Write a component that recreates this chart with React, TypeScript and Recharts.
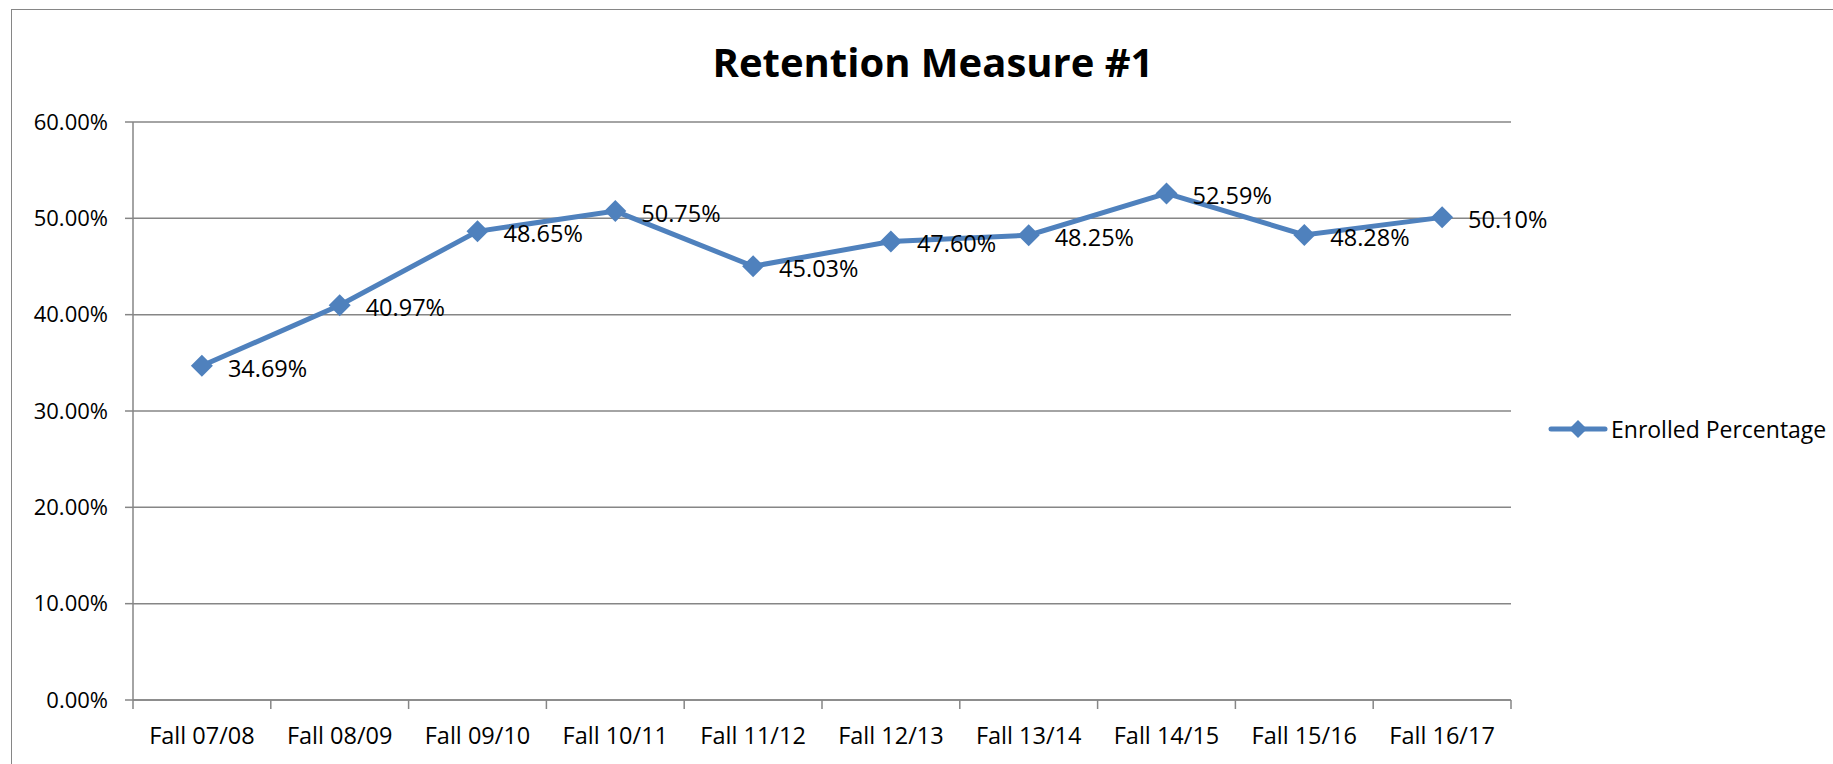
import React from "react";
import { CartesianGrid, LabelList, Line, LineChart, XAxis, YAxis } from "recharts";

const terms = [
  "Fall 07/08",
  "Fall 08/09",
  "Fall 09/10",
  "Fall 10/11",
  "Fall 11/12",
  "Fall 12/13",
  "Fall 13/14",
  "Fall 14/15",
  "Fall 15/16",
  "Fall 16/17",
];
const enrolled = [0.3469, 0.4097, 0.4865, 0.5075, 0.4503, 0.476, 0.4825, 0.5259, 0.4828, 0.501];
const yTicks = [0, 0.1, 0.2, 0.3, 0.4, 0.5, 0.6];

const data = terms.map((term, i) => ({ term, enrolled: enrolled[i] }));

const W = 1833;
const H = 764;
const Y_AXIS_W = 133;
const X_AXIS_H = 64;
const M = { top: 122, right: 322, bottom: 0, left: 0 };
const PLOT_W = W - Y_AXIS_W - M.right;
const BAND = PLOT_W / terms.length;

const BLUE = "#4F81BD";
const GRID = "#868686";
const FONT = "'Open Sans', 'Noto Sans', sans-serif";

const pct = (v: number) => `${(v * 100).toFixed(2)}%`;

function Diamond(props: { cx?: number; cy?: number; index?: number }) {
  const { cx, cy } = props;
  if (cx == null || cy == null) return null;
  const r = 11;
  return (
    <polygon
      key={`d-${props.index}`}
      points={`${cx},${cy - r} ${cx + r},${cy} ${cx},${cy + r} ${cx - r},${cy}`}
      fill={BLUE}
    />
  );
}

function TermTick(props: { x?: number; y?: number; index?: number; payload?: { value?: string } }) {
  const x = props.x ?? 0;
  const y = props.y ?? 0;
  const i = props.index ?? 0;
  return (
    <g>
      <line x1={x - BAND / 2} x2={x - BAND / 2} y1={y} y2={y + 9} stroke={GRID} strokeWidth={1.5} />
      {i === terms.length - 1 && (
        <line x1={x + BAND / 2} x2={x + BAND / 2} y1={y} y2={y + 9} stroke={GRID} strokeWidth={1.5} />
      )}
      <text x={x} y={y + 35} textAnchor="middle" dominantBaseline="central" fill="#000" fontSize={23.5} fontFamily={FONT}>
        {props.payload?.value}
      </text>
    </g>
  );
}

function PointLabel(props: { x?: number | string; y?: number | string; value?: number | string }) {
  const x = Number(props.x ?? 0);
  const y = Number(props.y ?? 0);
  return (
    <text x={x + 26} y={y + 2} dominantBaseline="central" fill="#000" fontSize={23.5} fontFamily={FONT}>
      {pct(Number(props.value))}
    </text>
  );
}

function LegendBox() {
  return (
    <div
      style={{
        position: "absolute",
        left: 1548,
        top: 413,
        display: "flex",
        alignItems: "center",
        fontFamily: FONT,
        fontSize: 23,
        color: "#000",
        whiteSpace: "nowrap",
      }}
    >
      <svg width={60} height={24} style={{ marginRight: 3 }}>
        <line x1={3} x2={57} y1={12} y2={12} stroke={BLUE} strokeWidth={5} strokeLinecap="round" />
        <polygon points="30,3 39,12 30,21 21,12" fill={BLUE} />
      </svg>
      <span>Enrolled Percentage</span>
    </div>
  );
}

export default function App() {
  return (
    <div style={{ position: "relative", width: W, height: H, overflow: "hidden", background: "#fff" }}>
      <style>{`body{margin:0}`}</style>
      <div
        style={{
          position: "absolute",
          left: 11,
          top: 9,
          width: 1840,
          height: 800,
          border: `1.5px solid ${GRID}`,
          boxSizing: "border-box",
        }}
      />
      <div
        style={{
          position: "absolute",
          left: 13,
          width: 1840,
          top: 34,
          textAlign: "center",
          fontFamily: FONT,
          fontWeight: 700,
          fontSize: 40,
          color: "#000",
        }}
      >
        Retention Measure #1
      </div>
      <div style={{ position: "absolute", left: 0, top: 0 }}>
        <LineChart width={W} height={H} data={data} margin={M}>
          <CartesianGrid vertical={false} stroke={GRID} strokeWidth={1.5} />
          <XAxis
            dataKey="term"
            height={X_AXIS_H}
            padding={{ left: BAND / 2, right: BAND / 2 }}
            axisLine={{ stroke: GRID, strokeWidth: 1.5 }}
            tickLine={false}
            tickSize={0}
            tickMargin={0}
            interval={0}
            tick={<TermTick />}
          />
          <YAxis
            width={Y_AXIS_W}
            domain={[0, 0.6]}
            ticks={yTicks}
            tickFormatter={pct}
            axisLine={{ stroke: GRID, strokeWidth: 1.5 }}
            tickLine={{ stroke: GRID, strokeWidth: 1.5 }}
            tickSize={8}
            tickMargin={17}
            tick={{ fill: "#000", fontSize: 22, fontFamily: FONT }}
          />
          <Line
            dataKey="enrolled"
            stroke={BLUE}
            strokeWidth={5}
            dot={<Diamond />}
            activeDot={false}
            isAnimationActive={false}
          >
            <LabelList dataKey="enrolled" content={<PointLabel />} />
          </Line>
        </LineChart>
      </div>
      <LegendBox />
    </div>
  );
}
